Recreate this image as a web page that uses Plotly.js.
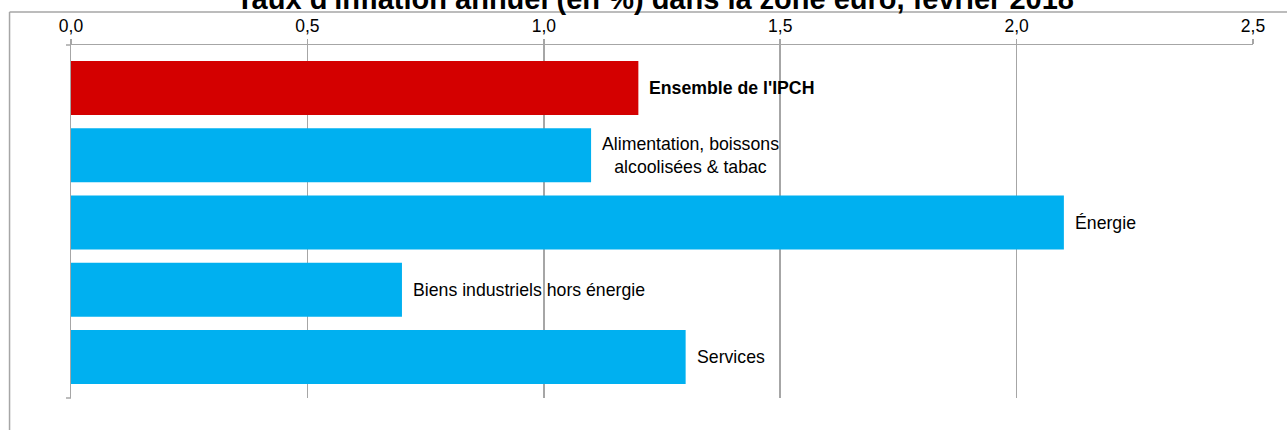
<!DOCTYPE html>
<html>
<head>
<meta charset="utf-8">
<script src="https://cdn.plot.ly/plotly-3.0.1.min.js"></script>
<style>html,body{margin:0;padding:0;background:#fff;overflow:hidden;}#chart{width:1287px;height:430px;}</style>
</head>
<body>
<div id="chart"></div>
<script>
// Data
const categories = ["Ensemble de l'IPCH", "Alimentation, boissons & tabac", "Énergie", "Biens industriels hors énergie", "Services"];
const labels = ["Ensemble de l'IPCH", "Alimentation, boissons<br>alcoolisées & tabac", "Énergie", "Biens industriels hors énergie", "Services"];
const values = [1.2, 1.1, 2.1, 0.7, 1.3];
const barColors = ["#d40000", "#00b0f0", "#00b0f0", "#00b0f0", "#00b0f0"];
const tickVals = [0, 0.5, 1.0, 1.5, 2.0, 2.5];
const titleText = "Taux d'inflation annuel (en %) dans la zone euro, février 2018";

const FONT = "Liberation Sans, Arial, sans-serif";
const GREY = "#a6a6a6";

const trace = {
  type: "bar",
  orientation: "h",
  y: categories,
  x: values,
  marker: {color: barColors, line: {width: 0}},
  hoverinfo: "x+y",
  cliponaxis: false
};

const annotations = categories.map((c, i) => ({
  x: values[i],
  y: c,
  xref: "x",
  yref: "y",
  xanchor: "left",
  yanchor: "middle",
  xshift: 9,
  align: "center",
  showarrow: false,
  text: labels[i],
  font: {family: FONT, size: 17.7, color: "#000", weight: i === 0 ? "bold" : "normal"}
}));

const shapes = [
  // outer chart frame: top and left edges (the rest lies beyond the window)
  {type: "line", xref: "paper", yref: "paper", x0: -0.052, x1: 1.03, y0: 1.0935, y1: 1.0935,
   line: {color: GREY, width: 1.5}},
  {type: "line", xref: "paper", yref: "paper", x0: -0.052, x1: -0.052, y0: -0.1, y1: 1.0935,
   line: {color: GREY, width: 1.5}},
  // category-axis end ticks
  {type: "line", xref: "paper", yref: "paper", x0: -5/1182, x1: 0, y0: 0, y1: 0, line: {color: GREY, width: 1.5}},
  {type: "line", xref: "paper", yref: "paper", x0: -5/1182, x1: 0, y0: 1, y1: 1, line: {color: GREY, width: 1.5}}
];

const layout = {
  width: 1287,
  height: 430,
  margin: {l: 71, r: 34, t: 45, b: 32, pad: 0},
  paper_bgcolor: "#fff",
  plot_bgcolor: "#fff",
  separators: ",.",
  showlegend: false,
  title: {
    text: titleText,
    font: {family: FONT, size: 29, color: "#000", weight: "bold"},
    xref: "container", x: 655/1287, xanchor: "center",
    yref: "container", y: 1 - 9/430, yanchor: "bottom"
  },
  xaxis: {
    side: "top",
    range: [0, 2.5],
    tickmode: "array",
    tickvals: tickVals,
    tickformat: ".1f",
    ticks: "outside",
    ticklen: 5,
    tickwidth: 1.5,
    tickcolor: GREY,
    showgrid: true,
    gridcolor: GREY,
    gridwidth: 1.5,
    showline: true,
    linecolor: GREY,
    linewidth: 1.5,
    zeroline: false,
    tickfont: {family: FONT, size: 17.5, color: "#000"},
    fixedrange: true
  },
  yaxis: {
    type: "category",
    categoryorder: "array",
    categoryarray: categories,
    range: [4.61, -0.64],
    showticklabels: false,
    ticks: "",
    showgrid: false,
    zeroline: false,
    showline: true,
    linecolor: GREY,
    linewidth: 1.5,
    fixedrange: true
  },
  bargap: 0.197,
  annotations: annotations,
  shapes: shapes
};

Plotly.newPlot("chart", [trace], layout, {displayModeBar: false, staticPlot: true});
</script>
</body>
</html>
